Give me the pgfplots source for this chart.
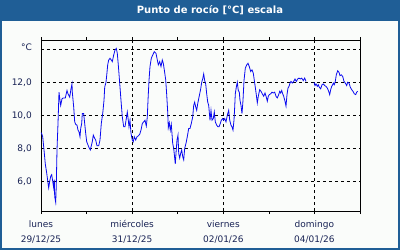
\documentclass[border=0pt]{standalone}
\usepackage{pgfplots}
\pgfplotsset{compat=1.18}
\usepackage{fontspec}
\setmainfont{DejaVu Sans}
\definecolor{framebl}{RGB}{31,94,150}
\definecolor{bgc}{RGB}{250,252,250}
\definecolor{labc}{RGB}{25,35,85}
\definecolor{lineb}{RGB}{10,10,240}
\begin{document}
\begin{tikzpicture}[x=1pt,y=1pt]
\fill[framebl] (0,0) rectangle (400,250);
\fill[bgc] (1.5,2) rectangle (398,229);
\node[text=white,font=\bfseries\fontsize{10}{12}\selectfont] at (210,239.5) {Punto de rocío [°C] escala};
\begin{axis}[
  at={(41pt,39pt)}, anchor=south west,
  scale only axis, width=319pt, height=171pt,
  xmin=41, xmax=360, ymin=4.2, ymax=14.56,
  axis line style={black, line width=0.8pt},
  axis background/.style={fill=bgc},
  xtick={41,132.14,223.28,314.42},
  minor xtick={86.57,177.71,268.85,360},
  xticklabels={{lunes\\29/12/25},{miércoles\\31/12/25},{viernes\\02/01/26},{domingo\\04/01/26}},
  ytick={6,8,10,12,14},
  yticklabels={{6,0},{8,0},{10,0},{12,0},{\raisebox{3.5pt}{°C}}},
  tick align=outside,
  major tick length=3pt, minor tick length=3pt,
  xtick style={black, line width=0.6pt},
  ytick style={draw=none},
  xmajorgrids, ymajorgrids,
  major grid style={black, line width=0.6pt, dash pattern=on 3pt off 3pt},
  xticklabel style={align=center, text=labc, font=\fontsize{9}{15}\selectfont, inner sep=0pt, yshift=-6pt},
  yticklabel style={text=labc, font=\fontsize{9}{11}\selectfont, inner sep=0pt, xshift=-6pt},
  clip=true,
]
\addplot[lineb, line width=0.8pt] coordinates {
(41.3,8.95)(42.7,8.7)(44,7.9)(45.3,7.05)(46.7,6.5)(48,5.9)(48.7,5.6)(49.7,6.0)(50.7,6.3)(51.7,6.4)
(52.7,6.0)(53.7,5.6)(54.3,6.1)(54.7,5.07)(55.7,4.73)(56.3,5.8)(57,7.9)(58,9.5)(59,11.4)(60,10.9)
(60.7,10.6)(62,11.0)(63.3,11.05)(65.3,11.05)(67,11.5)(68,11.3)(69.7,11.1)(71,11.6)(72,11.9)(72.3,11.4)
(73.7,10.5)(74.7,9.6)(75.7,9.45)(77,9.4)(78,9.1)(79,9.0)(80,8.7)(80.7,9.2)(81.7,9.5)(82.3,10.1)
(83.7,10.1)(84.7,9.5)(85.7,8.9)(86.7,8.4)(88,8.2)(89,8.05)(90.3,7.9)(91.3,8.15)(92.3,8.4)(93.3,8.8)
(94.7,8.6)(95.7,8.5)(97,8.15)(98.7,8.15)(100,8.5)(101.3,9.5)(102.7,10.1)(104,10.9)(104.7,11.7)(106,12.0)
(107,12.6)(107.7,13.05)(108.7,13.35)(110,13.45)(111.3,13.35)(112.3,13.25)(113.7,13.65)(115,13.95)(116.3,14.05)(117.3,13.75)
(118.3,13.05)(119.7,11.95)(121,10.9)(122.3,9.9)(123.7,9.3)(125,9.3)(126.3,9.8)(127.3,10.2)(128.3,9.7)(129,9.3)
(130,9.7)(131,8.9)(132.3,8.5)(133.3,8.4)(134.3,8.7)(135.7,8.5)(137,8.7)(138.3,8.75)(139.7,8.85)(141,9.1)
(142.3,9.5)(143.7,9.6)(145,9.7)(146.3,9.35)(147.3,9.9)(148,10.9)(149,12.1)(150,12.95)(151.3,13.45)(152.7,13.65)
(154.3,13.85)(156,13.75)(157,13.45)(158.3,13.05)(159.7,13.25)(161,12.95)(162.3,13.35)(163.3,13.15)(164.3,12.75)(165.7,12.15)
(166.7,11.25)(167.7,10.2)(168.3,9.25)(169.3,9.55)(170.3,9.1)(171.3,9.45)(172.7,8.3)(173.7,8.0)(174.7,7.4)(175.3,7.05)
(176,7.7)(177,8.5)(178,8.8)(178.7,7.7)(179.7,7.4)(180.7,7.7)(181.7,7.9)(182.7,7.5)(183.7,7.3)(184.7,8.0)
(186,8.3)(187.3,8.7)(188.7,9.2)(190,9.2)(191.3,9.5)(192.7,9.9)(193.7,10.6)(194.7,10.8)(195.7,10.5)(196.7,10.3)
(197.7,10.7)(198.7,11.0)(199.7,11.3)(200.7,11.6)(201.7,12.0)(202.7,12.2)(203.7,12.5)(204.7,12.1)(205.7,11.9)(206.7,11.3)
(207.7,10.8)(208.7,10.6)(210,9.7)(211,10.3)(212,9.7)(213.3,9.8)(214.3,10.2)(215.3,9.6)(216.7,9.4)(218,9.3)
(219,9.3)(220.3,9.5)(221.3,9.7)(222.7,9.8)(223.7,9.7)(224.7,9.8)(226,9.6)(227.3,10.0)(228.7,10.3)(229.7,9.7)
(231,9.4)(232,9.3)(233,9.1)(234,9.7)(234.7,10.5)(235.3,11.3)(236.3,11.7)(237.3,12.0)(238.3,11.5)(239.3,11.4)
(240,10.9)(241,10.6)(242,10.1)(243,10.9)(244,12.1)(245.3,12.85)(246.7,13.05)(248,13.15)(249.3,12.95)(250.7,12.65)
(252,12.75)(253.3,12.55)(254.7,11.95)(256.3,11.25)(257.3,10.75)(258.3,11.15)(259.7,11.55)(261,11.45)(262.3,11.3)(263.7,11.15)
(265,11.35)(266.3,11.1)(267.3,10.85)(268.3,11.15)(269.3,11.25)(270.7,11.3)(272,11.4)(273.3,11.35)(274.7,11.4)(276,11.15)
(277.3,11.05)(278.7,11.25)(279.7,11.45)(280.7,11.35)(281.7,11.5)(282.7,11.3)(283.7,11.15)(285,10.85)(286,10.55)(287,11.25)
(288,11.65)(289,11.75)(290,11.95)(291,12.05)(292.3,11.95)(293.7,12.05)(295,12.2)(296.3,12.05)(297.7,12.2)(299,12.25)
(300.3,12.2)(301.7,12.25)(303.3,12.1)(304.7,12.25)(306,12.05)
};
\addplot[lineb, line width=0.8pt] coordinates {
(314,12.0)(315,11.8)(316,11.9)(317.3,11.75)(318.3,11.85)(319.3,11.7)(320.7,11.6)(322,11.85)(323.3,11.9)(324.7,11.8)
(326,11.75)(327.3,11.65)(328.7,11.45)(329.7,11.25)(330.7,11.55)(331.7,11.75)(332.7,11.85)(333.3,11.95)(334.3,11.85)(335.3,12.05)
(336.3,12.45)(337.7,12.7)(339,12.6)(340,12.4)(341.3,12.45)(342.7,12.35)(344,12.05)(345.3,11.95)(346.7,11.8)(347.7,12.0)
(349,11.95)(350.3,11.7)(351.7,11.55)(353,11.45)(354.3,11.3)(355.7,11.25)(356.7,11.4)(357.7,11.45)
};
\end{axis}
\pgfresetboundingbox
\useasboundingbox (0,0) rectangle (400,250);
\end{tikzpicture}
\end{document}
